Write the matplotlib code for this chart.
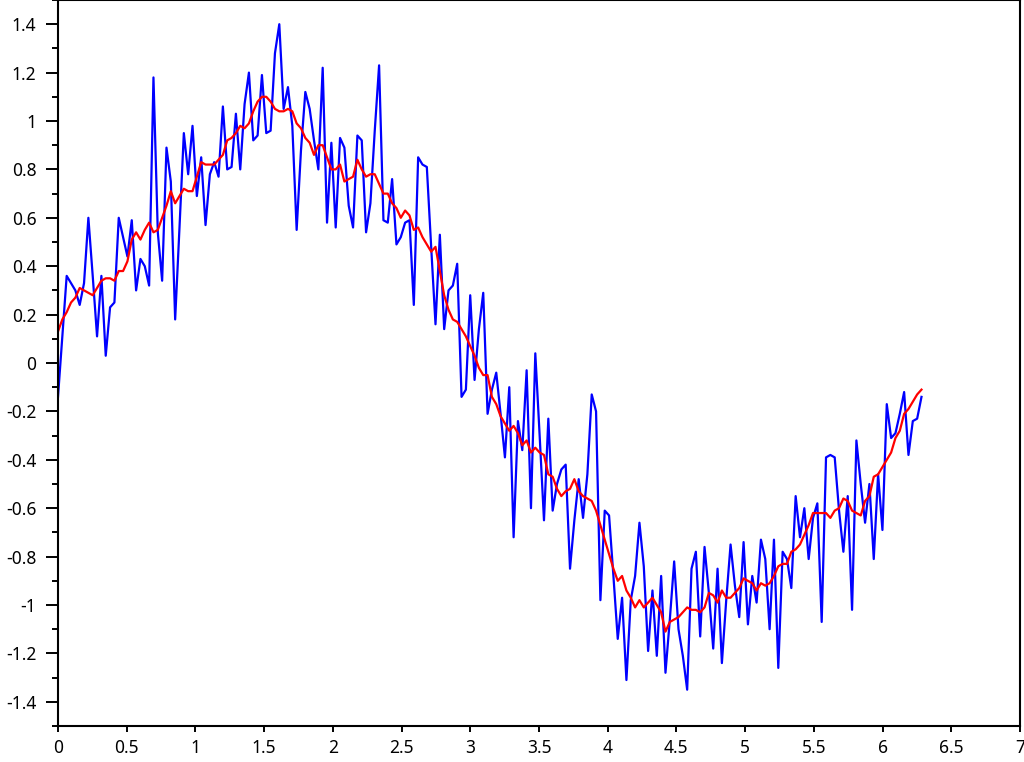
"""Noisy sine samples with their running-average curve."""

import matplotlib

matplotlib.use("Agg")
import matplotlib.pyplot as plt
import numpy as np
from matplotlib.ticker import FuncFormatter, MultipleLocator

# noisy samples (blue)
blue = [
    -0.14, 0.11, 0.36, 0.33, 0.30, 0.24, 0.33, 0.60, 0.36, 0.11,
    0.36, 0.03, 0.23, 0.25, 0.60, 0.52, 0.44, 0.59, 0.30, 0.43,
    0.40, 0.32, 1.18, 0.54, 0.34, 0.89, 0.75, 0.18, 0.56, 0.95,
    0.78, 0.98, 0.69, 0.85, 0.57, 0.78, 0.83, 0.77, 1.06, 0.80,
    0.81, 1.03, 0.80, 1.07, 1.20, 0.92, 0.94, 1.19, 0.95, 0.96,
    1.28, 1.40, 1.05, 1.14, 0.98, 0.55, 0.88, 1.12, 1.05, 0.92,
    0.80, 1.22, 0.58, 0.91, 0.56, 0.93, 0.89, 0.65, 0.56, 0.94,
    0.92, 0.54, 0.66, 0.96, 1.23, 0.59, 0.58, 0.76, 0.49, 0.52,
    0.58, 0.59, 0.24, 0.85, 0.82, 0.81, 0.48, 0.16, 0.53, 0.14,
    0.30, 0.32, 0.41, -0.14, -0.11, 0.28, -0.07, 0.14, 0.29, -0.21,
    -0.11, -0.04, -0.21, -0.39, -0.10, -0.72, -0.24, -0.36, -0.03, -0.60,
    0.04, -0.30, -0.65, -0.23, -0.61, -0.50, -0.44, -0.42, -0.85, -0.65,
    -0.48, -0.64, -0.46, -0.13, -0.20, -0.98, -0.61, -0.63, -0.88, -1.14,
    -0.97, -1.31, -0.98, -0.88, -0.66, -0.84, -1.19, -0.94, -1.21, -0.88,
    -1.28, -1.06, -0.82, -1.10, -1.21, -1.35, -0.85, -0.78, -1.13, -0.76,
    -0.95, -1.18, -0.85, -1.24, -0.98, -0.75, -0.92, -1.05, -0.74, -1.08,
    -0.88, -0.99, -0.73, -0.81, -1.10, -0.73, -1.26, -0.78, -0.81, -0.93,
    -0.55, -0.72, -0.60, -0.81, -0.64, -0.58, -1.07, -0.39, -0.38, -0.39,
    -0.61, -0.78, -0.55, -1.02, -0.32, -0.50, -0.66, -0.50, -0.81, -0.46,
    -0.69, -0.17, -0.31, -0.29, -0.21, -0.12, -0.38, -0.24, -0.23, -0.14,
]

# smoothed curve (red)
red = [
    0.13, 0.18, 0.21, 0.25, 0.27, 0.31, 0.30, 0.29, 0.28, 0.31,
    0.34, 0.35, 0.35, 0.34, 0.38, 0.38, 0.42, 0.51, 0.54, 0.51,
    0.55, 0.58, 0.54, 0.55, 0.60, 0.65, 0.71, 0.66, 0.69, 0.72,
    0.71, 0.71, 0.77, 0.83, 0.82, 0.82, 0.82, 0.84, 0.86, 0.92,
    0.93, 0.95, 0.98, 0.97, 0.99, 1.04, 1.08, 1.10, 1.10, 1.08,
    1.05, 1.04, 1.04, 1.05, 1.04, 0.99, 0.97, 0.93, 0.91, 0.86,
    0.90, 0.90, 0.85, 0.80, 0.80, 0.82, 0.75, 0.76, 0.77, 0.84,
    0.80, 0.77, 0.78, 0.78, 0.74, 0.70, 0.70, 0.66, 0.64, 0.60,
    0.63, 0.61, 0.55, 0.56, 0.52, 0.49, 0.46, 0.48, 0.38, 0.28,
    0.22, 0.18, 0.17, 0.14, 0.11, 0.07, 0.03, -0.02, -0.05, -0.05,
    -0.14, -0.17, -0.22, -0.25, -0.28, -0.26, -0.29, -0.34, -0.32, -0.37,
    -0.35, -0.37, -0.38, -0.46, -0.47, -0.52, -0.55, -0.53, -0.52, -0.48,
    -0.53, -0.55, -0.56, -0.57, -0.61, -0.67, -0.73, -0.79, -0.85, -0.90,
    -0.88, -0.94, -0.97, -1.01, -0.98, -1.01, -0.99, -0.97, -1.00, -1.03,
    -1.11, -1.07, -1.06, -1.05, -1.03, -1.01, -1.02, -1.02, -1.03, -1.01,
    -0.95, -0.96, -0.99, -0.94, -0.97, -0.97, -0.95, -0.93, -0.89, -0.90,
    -0.91, -0.94, -0.91, -0.92, -0.91, -0.88, -0.84, -0.83, -0.83, -0.78,
    -0.77, -0.75, -0.71, -0.67, -0.62, -0.62, -0.62, -0.62, -0.64, -0.61,
    -0.60, -0.56, -0.57, -0.61, -0.62, -0.63, -0.57, -0.55, -0.47, -0.46,
    -0.43, -0.40, -0.37, -0.31, -0.28, -0.21, -0.19, -0.16, -0.13, -0.11,
]

# samples are evenly spaced over one period
x = np.linspace(0, 2 * np.pi, len(blue))

plt.rcParams["font.family"] = ["Noto Sans", "DejaVu Sans"]

fig = plt.figure(figsize=(10.24, 7.62), dpi=100)
ax = fig.add_axes([58 / 1024, 36 / 762, 962 / 1024, 726 / 762])

ax.plot(x, blue, color="#0000ff", lw=1.6)
ax.plot(x, red, color="#ff0000", lw=1.6)

ax.set_xlim(0, 7)
ax.set_ylim(-1.5, 1.5)


def _label(v, _):
    return "0" if abs(v) < 1e-9 else f"{v:g}"


ax.xaxis.set_major_locator(MultipleLocator(0.5))
ax.xaxis.set_major_formatter(FuncFormatter(_label))
ax.yaxis.set_major_locator(MultipleLocator(0.2))
ax.yaxis.set_minor_locator(MultipleLocator(0.1))
ax.yaxis.set_major_formatter(FuncFormatter(_label))

ax.tick_params(axis="x", which="major", direction="out", length=4.5, width=1.4,
               labelsize=12.5, pad=5)
ax.tick_params(axis="y", which="major", direction="out", length=8.5, width=1.4,
               labelsize=12.5, pad=7)
ax.tick_params(axis="y", which="minor", direction="out", length=4, width=1.4)
for s in ax.spines.values():
    s.set_linewidth(1.5)

fig.savefig("out.png", dpi=100)
